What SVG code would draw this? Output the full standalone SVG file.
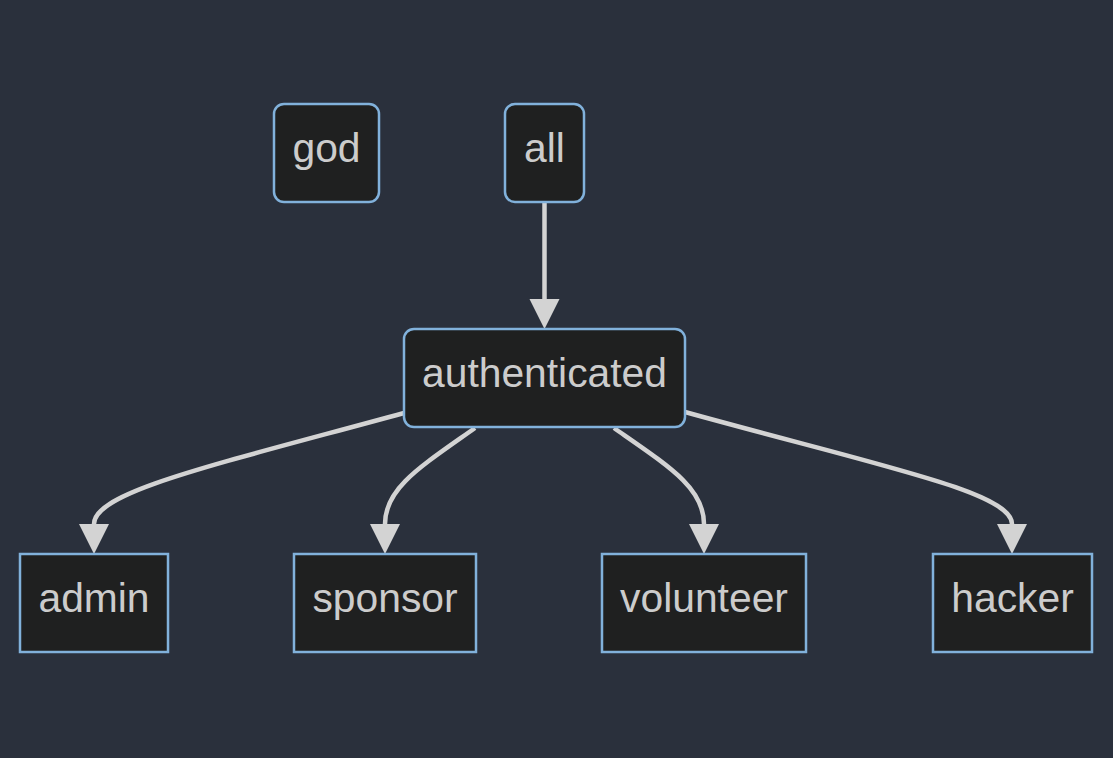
<svg xmlns="http://www.w3.org/2000/svg" width="1113" height="758" viewBox="0 0 1113 758">
<defs>
<style>
.node rect{fill:#1f2020;stroke:#81b1db;stroke-width:2.5}
.node text{fill:#cccccc;font-family:"Liberation Sans",Arial,sans-serif;font-size:40.8px;text-anchor:middle}
.edge{fill:none;stroke:#d3d3d3;stroke-width:4.5}
</style>
<marker id="arrow" viewBox="0 0 10 10" refX="0" refY="5" markerWidth="30" markerHeight="31" markerUnits="userSpaceOnUse" orient="auto">
<path d="M0,0 L10,5 L0,10 z" fill="#d3d3d3"/>
</marker>
</defs>
<rect width="1113" height="758" fill="#2a303c"/>
<g id="connectors">
<path class="edge" d="M544.5,203 L544.5,299" marker-end="url(#arrow)"/>
<path class="edge" d="M404,413 C210,466 94,492 94,524" marker-end="url(#arrow)"/>
<path class="edge" d="M475,428 C420,467 385,488 385,524" marker-end="url(#arrow)"/>
<path class="edge" d="M614,428 C670,467 704,488 704,524" marker-end="url(#arrow)"/>
<path class="edge" d="M685,412 C880,466 1012,492 1012,524" marker-end="url(#arrow)"/>
</g>
<g id="node-god" class="node"><rect x="274" y="104" width="105" height="98" rx="10"/><text x="326.5" y="162">god</text></g>
<g id="node-all" class="node"><rect x="505" y="104" width="79" height="98" rx="10"/><text x="544.5" y="162">all</text></g>
<g id="node-authenticated" class="node"><rect x="404" y="329" width="281" height="98" rx="10"/><text x="544.5" y="387">authenticated</text></g>
<g id="node-admin" class="node"><rect x="20" y="554" width="148" height="98"/><text x="94" y="612">admin</text></g>
<g id="node-sponsor" class="node"><rect x="294" y="554" width="182" height="98"/><text x="385" y="612">sponsor</text></g>
<g id="node-volunteer" class="node"><rect x="602" y="554" width="204" height="98"/><text x="704" y="612">volunteer</text></g>
<g id="node-hacker" class="node"><rect x="933" y="554" width="159" height="98"/><text x="1012.5" y="612">hacker</text></g>
</svg>
